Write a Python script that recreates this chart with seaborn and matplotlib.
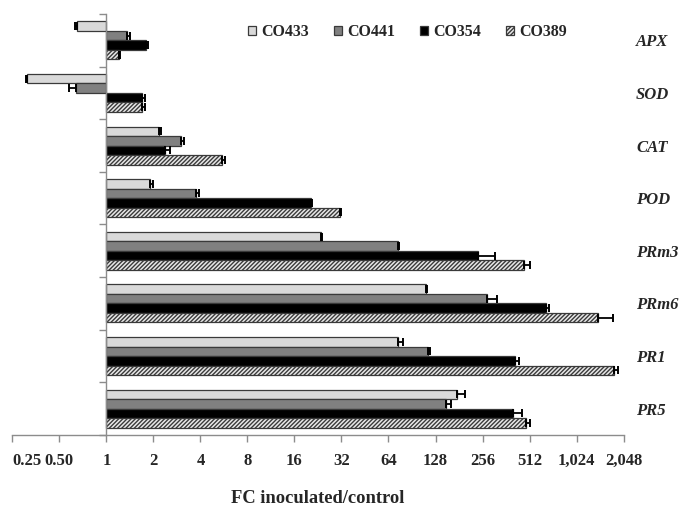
import numpy as np
import pandas as pd
import matplotlib
matplotlib.use("Agg")
import matplotlib.pyplot as plt
import seaborn as sns
from matplotlib.ticker import FixedLocator

genes = ["APX", "SOD", "CAT", "POD", "PRm3", "PRm6", "PR1", "PR5"]
strains = ["CO433", "CO441", "CO354", "CO389"]

# fold change inoculated/control (one list per strain, in gene order)
fc_co433 = [0.65, 0.31, 2.17, 1.90, 23.8, 112, 74, 177]
fc_co441 = [1.36, 0.64, 3.02, 3.77, 73.7, 274, 115, 150]
fc_co354 = [1.80, 1.70, 2.39, 20.3, 240, 652, 413, 402]
fc_co389 = [1.20, 1.70, 5.47, 31.2, 473, 1408, 1784, 485]

# standard errors (same units)
se_co433 = [0.02, 0.005, 0.07, 0.09, 0.3, 1, 4.7, 20]
se_co441 = [0.05, 0.06, 0.10, 0.15, 1, 45, 2.5, 12]
se_co354 = [0.06, 0.07, 0.15, 0.3, 67, 28, 24, 56]
se_co389 = [0.02, 0.07, 0.25, 0.4, 42, 335, 107, 29]

tick_vals = [0.25, 0.5, 1, 2, 4, 8, 16, 32, 64, 128, 256, 512, 1024, 2048]
tick_labels = ["0.25", "0.50", "1", "2", "4", "8", "16", "32", "64", "128",
               "256", "512", "1,024", "2,048"]

fcs = [fc_co433, fc_co441, fc_co354, fc_co389]
ses = [se_co433, se_co441, se_co354, se_co389]

rows = []
for s, fc in zip(strains, fcs):
    for g, v in zip(genes, fc):
        rows.append({"gene": g, "strain": s, "log2fc": np.log2(v)})
df = pd.DataFrame(rows)

sns.set_style("white")
plt.rcParams["font.family"] = ["Liberation Serif", "DejaVu Serif"]
plt.rcParams["font.weight"] = "bold"
plt.rcParams["hatch.linewidth"] = 1.0
plt.rcParams["hatch.color"] = "#333333"

fig = plt.figure(figsize=(6.86, 5.09), dpi=100)
ax = fig.add_axes([0.018, 0.1454, 0.891, 0.8271])

palette = {"CO433": "#d9d9d9", "CO441": "#808080", "CO354": "#000000", "CO389": "#e8e8e8"}
sns.barplot(data=df, y="gene", x="log2fc", hue="strain", order=genes,
            hue_order=strains, palette=palette, orient="h", width=0.72,
            edgecolor="#3a3a3a", linewidth=0.9, ax=ax, legend=True)

for bar in ax.containers[3]:
    bar.set_hatch("////////")

# one-sided error bars at the bar ends
for cont, fc, se in zip(ax.containers, fcs, ses):
    for bar, v, e in zip(cont, fc, se):
        yc = bar.get_y() + bar.get_height() / 2
        xe = np.log2(v)
        if v >= 1:
            err = [[0], [np.log2(v + e) - xe]]
        else:
            err = [[xe - np.log2(v - e)], [0]]
        ax.errorbar(xe, yc, xerr=err, fmt="none", ecolor="black",
                    elinewidth=1.3, capsize=2.8, capthick=1.4, zorder=5)

ax.set_xlim(-2, 11)
ax.set_ylim(7.5, -0.5)
ax.set_xticks(np.log2(tick_vals))
ax.set_xticklabels(tick_labels)
ax.get_xticklabels()[0].set_horizontalalignment("left")

spine_c = "#8c8c8c"
ax.spines["top"].set_visible(False)
ax.spines["right"].set_visible(False)
ax.spines["left"].set_position(("data", 0))
for sp in ["left", "bottom"]:
    ax.spines[sp].set_color(spine_c)
    ax.spines[sp].set_linewidth(1.0)

ax.tick_params(axis="x", direction="out", length=5, width=1, color=spine_c,
               pad=8, labelsize=12, bottom=True)
ax.set_yticks(range(len(genes)))
ax.set_yticklabels(genes, fontstyle="italic", fontsize=12, fontweight="bold")
ax.yaxis.set_minor_locator(FixedLocator(np.arange(-0.5, 8, 1)))
ax.tick_params(axis="y", which="major", left=False, right=True, labelleft=False,
               labelright=True, length=0, pad=9)
ax.tick_params(axis="y", which="minor", left=True, right=False, length=5,
               width=1, color=spine_c, direction="out")
ax.set_ylabel("")
ax.set_xlabel("FC inoculated/control", fontsize=13.3, fontweight="bold", labelpad=15)

handles, labels = ax.get_legend_handles_labels()
handles[3].set_hatch("////////")
ax.legend(handles, labels, ncol=4, frameon=False, loc="center",
          bbox_to_anchor=(0.594, 0.937), bbox_transform=fig.transFigure,
          handlelength=0.5, handleheight=0.5, handletextpad=0.3,
          columnspacing=1.6, prop={"size": 11.5, "weight": "bold"})

fig.savefig("out.png", dpi=100)
